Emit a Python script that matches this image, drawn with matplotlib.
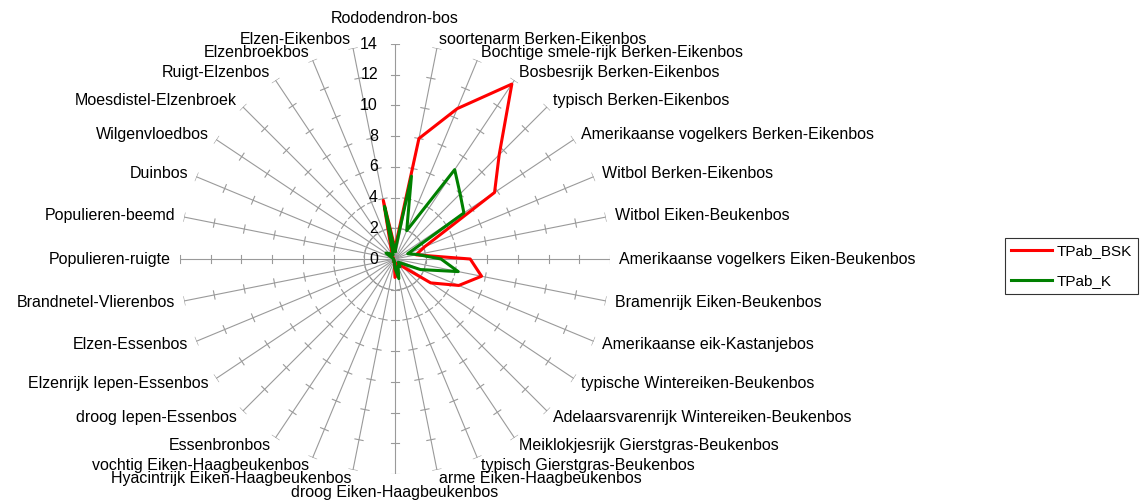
import numpy as np
import matplotlib
matplotlib.use('Agg')
import matplotlib.pyplot as plt

plt.rcParams['font.family'] = 'Liberation Sans'
plt.rcParams['font.size'] = 11.5

# Categories, clockwise from the top
categories = [
    'Rododendron-bos', 'soortenarm Berken-Eikenbos',
    'Bochtige smele-rijk Berken-Eikenbos', 'Bosbesrijk Berken-Eikenbos',
    'typisch Berken-Eikenbos', 'Amerikaanse vogelkers Berken-Eikenbos',
    'Witbol Berken-Eikenbos', 'Witbol Eiken-Beukenbos',
    'Amerikaanse vogelkers Eiken-Beukenbos', 'Bramenrijk Eiken-Beukenbos',
    'Amerikaanse eik-Kastanjebos', 'typische Wintereiken-Beukenbos',
    'Adelaarsvarenrijk Wintereiken-Beukenbos', 'Meiklokjesrijk Gierstgras-Beukenbos',
    'typisch Gierstgras-Beukenbos', 'arme Eiken-Haagbeukenbos',
    'droog Eiken-Haagbeukenbos', 'Hyacintrijk Eiken-Haagbeukenbos',
    'vochtig Eiken-Haagbeukenbos', 'Essenbronbos',
    'droog Iepen-Essenbos', 'Elzenrijk Iepen-Essenbos',
    'Elzen-Essenbos', 'Brandnetel-Vlierenbos',
    'Populieren-ruigte', 'Populieren-beemd',
    'Duinbos', 'Wilgenvloedbos',
    'Moesdistel-Elzenbroek', 'Ruigt-Elzenbos',
    'Elzenbroekbos', 'Elzen-Eikenbos',
]

tpab_bsk = [0.7, 8.0, 10.6, 13.7, 9.6, 7.8, 2.1, 1.4,
            4.9, 5.75, 4.5, 2.8, 0.7, 0.4, 0.3, 1.0,
            1.2, 0.2, 0.2, 0.1, 0.1, 0.1, 0.1, 0.1,
            0.1, 0.1, 0.1, 0.2, 0.2, 0.3, 0.6, 3.9]
tpab_k = [0.5, 5.5, 2.0, 7.0, 6.0, 5.4, 0.9, 1.5,
          3.0, 4.2, 1.8, 0.5, 0.3, 0.6, 0.5, 1.3,
          0.6, 0.2, 0.2, 0.1, 0.1, 0.1, 0.1, 0.1,
          0.1, 0.1, 0.2, 0.7, 0.5, 0.3, 0.3, 3.5]

r_ticks = [0, 2, 4, 6, 8, 10, 12, 14]
r_max = 14

n = len(categories)
theta = np.arange(n) * 2 * np.pi / n

fig = plt.figure(figsize=(11.42, 5.04), dpi=100)
ax = fig.add_axes([0.1576, 0.0595, 0.3765, 0.8532], projection='polar')
ax.set_theta_zero_location('N')
ax.set_theta_direction(-1)
ax.set_ylim(0, r_max)
ax.axis('off')

spoke_color = '#9a9a9a'

# Spokes with small cross ticks
h = 0.27
for t in theta:
    ax.plot([t, t], [0, r_max], color=spoke_color, lw=0.8, zorder=1)
    for r in r_ticks[1:]:
        da = np.arctan(h / r)
        rr = np.hypot(r, h)
        ax.plot([t - da, t + da], [rr, rr], color=spoke_color, lw=0.8, zorder=1)

# Data series
th_closed = np.append(theta, theta[0])
ax.plot(th_closed, tpab_bsk + tpab_bsk[:1], color='#ff0000', lw=2.2,
        label='TPab_BSK', zorder=3)
ax.plot(th_closed, tpab_k + tpab_k[:1], color='#008000', lw=2.2,
        label='TPab_K', zorder=3)

# Value labels on the vertical spoke
for v in r_ticks:
    ax.annotate(str(v), xy=(0, v), xytext=(-17, 0), textcoords='offset pixels',
                ha='right', va='center', annotation_clip=False)

# Category labels
d = 9
for t, name in zip(theta, categories):
    s, c = np.sin(t), np.cos(t)
    if s > 0.05:
        ha = 'left'
    elif s < -0.05:
        ha = 'right'
    else:
        ha = 'center'
    va = 'center'
    off = d
    if abs(s) < 0.05:
        if c > 0:
            va, off = 'bottom', 18
        else:
            va, off = 'top', 11
    ax.annotate(name, xy=(t, r_max), xytext=(off * s, off * c),
                textcoords='offset pixels', ha=ha, va=va, annotation_clip=False)

leg = fig.legend(loc='upper left', bbox_to_anchor=(0.8800, 0.5278),
                 borderaxespad=0, frameon=True, fancybox=False,
                 edgecolor='black', fontsize=11, handlelength=2.7,
                 handletextpad=0.25, labelspacing=1.05, borderpad=0.4)
leg.get_frame().set_linewidth(0.8)

fig.savefig('out.png', dpi=100)
